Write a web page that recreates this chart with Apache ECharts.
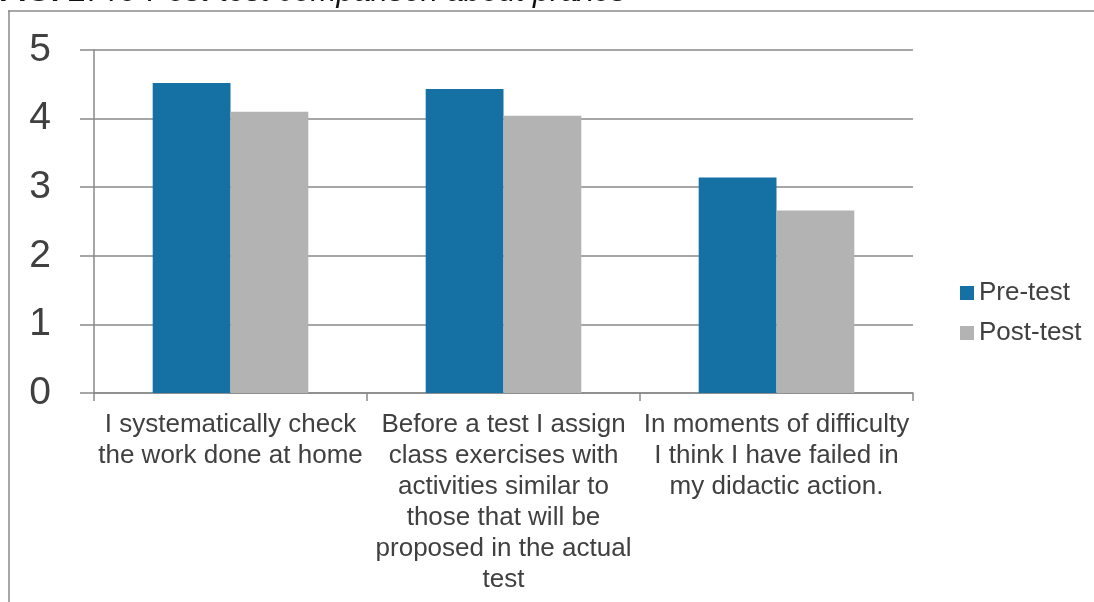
<!DOCTYPE html>
<html>
<head>
<meta charset="utf-8">
<script src="https://cdn.jsdelivr.net/npm/echarts@6/dist/echarts.min.js"></script>
<style>html,body{margin:0;padding:0;background:#fff}#c{width:1094px;height:602px}</style>
</head>
<body>
<div id="c"></div>
<script>
const categories = [
  "I systematically check\nthe work done at home",
  "Before a test I assign\nclass exercises with\nactivities similar to\nthose that will be\nproposed in the actual\ntest",
  "In moments of difficulty\nI think I have failed in\nmy didactic action."
];
const seriesNames = ["Pre-test", "Post-test"];
const preTest = [4.52, 4.43, 3.14];
const postTest = [4.10, 4.04, 2.66];
const yTicks = [0, 1, 2, 3, 4, 5];

const chart = echarts.init(document.getElementById('c'));
const gridColor = '#898989';
chart.setOption({
  animation: false,
  backgroundColor: '#fff',
  textStyle: { fontFamily: 'Liberation Sans, Arial, sans-serif' },
  graphic: [
    { type: 'line', shape: { x1: 8, y1: 11, x2: 1094, y2: 11 }, style: { stroke: '#8a8a8a', lineWidth: 1.5 } },
    { type: 'line', shape: { x1: 9, y1: 10.5, x2: 9, y2: 602 }, style: { stroke: '#8a8a8a', lineWidth: 1.5 } },
    { type: 'text', x: -1, y: -8,
      style: { verticalAlign: 'middle',
               rich: { b: { fontWeight: 'bold', fontSize: 31, fill: '#111', fontFamily: 'Liberation Sans' },
                       i: { fontStyle: 'italic', fontSize: 31, fill: '#111', fontFamily: 'Liberation Sans' } },
               text: '{b|FIG. 2} {i|Pre-Post-test comparison about praxes}' } }
  ],
  grid: { left: 94, right: 181, top: 50, bottom: 209, containLabel: false },
  legend: {
    orient: 'vertical', left: 955, top: 275,
    itemWidth: 14, itemHeight: 14, itemGap: 14,
    icon: 'rect',
    textStyle: { fontSize: 26, lineHeight: 26, color: '#404040', fontFamily: 'Liberation Sans' },
    data: seriesNames
  },
  xAxis: {
    type: 'category', data: categories,
    axisLine: { lineStyle: { color: gridColor, width: 1.5 } },
    axisTick: { show: true, length: 8, lineStyle: { color: gridColor, width: 1.5 } },
    axisLabel: { fontSize: 26, color: '#404040', lineHeight: 31, margin: 16, interval: 0, fontFamily: 'Liberation Sans' }
  },
  yAxis: {
    type: 'value', min: yTicks[0], max: yTicks[yTicks.length - 1], interval: 1,
    axisLine: { show: true, lineStyle: { color: gridColor, width: 1.5 } },
    axisTick: { show: true, length: 14, lineStyle: { color: gridColor, width: 1.5 } },
    splitLine: { lineStyle: { color: gridColor, width: 1.5 } },
    axisLabel: { fontSize: 39, color: '#404040', margin: 43, fontFamily: 'Liberation Sans' }
  },
  series: [
    { name: seriesNames[0], type: 'bar', data: preTest, barGap: '0%', barCategoryGap: '43%', itemStyle: { color: '#1570A3' } },
    { name: seriesNames[1], type: 'bar', data: postTest, barGap: '0%', barCategoryGap: '43%', itemStyle: { color: '#B3B3B3' } }
  ]
});
</script>
</body>
</html>
